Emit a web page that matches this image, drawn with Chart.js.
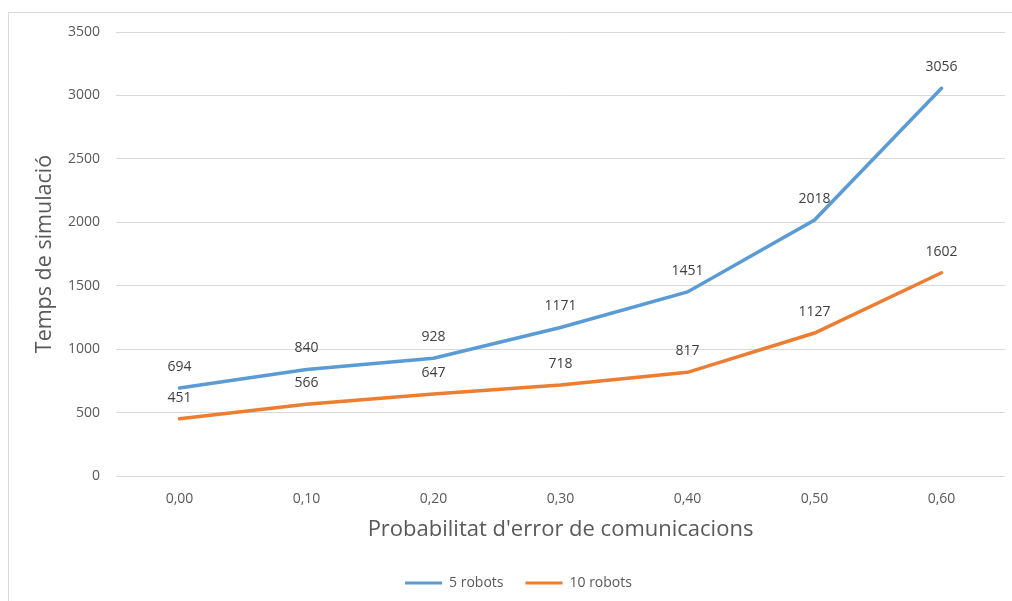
<!DOCTYPE html>
<html>
<head>
<meta charset="utf-8">
<script src="https://cdn.jsdelivr.net/npm/chart.js@4.4.1/dist/chart.umd.min.js"></script>
<style>
  html, body { margin: 0; padding: 0; background: #ffffff; }
  #wrap { position: relative; width: 1012px; height: 601px; }
</style>
</head>
<body>
<div id="wrap"><canvas id="chart" width="1012" height="601"></canvas></div>
<script>
// Probability of communication error (x categories)
const categories = ['0,00', '0,10', '0,20', '0,30', '0,40', '0,50', '0,60'];
// Simulation time per configuration
const robots5 = [694, 840, 928, 1171, 1451, 2018, 3056];
const robots10 = [451, 566, 647, 718, 817, 1127, 1602];
const seriesNames = ['5 robots', '10 robots'];

const FONT = '"Open Sans", "Noto Sans", sans-serif';
const TEXT = '#595959';

// Outer frame of the chart area
const framePlugin = {
  id: 'frame',
  beforeDraw(chart) {
    const ctx = chart.ctx;
    ctx.save();
    ctx.fillStyle = '#ffffff';
    ctx.fillRect(0, 0, chart.width, chart.height);
    ctx.strokeStyle = '#d9d9d9';
    ctx.lineWidth = 1;
    ctx.beginPath();
    ctx.moveTo(8.5, chart.height + 2);
    ctx.lineTo(8.5, 12.5);
    ctx.lineTo(chart.width + 2, 12.5);
    ctx.stroke();
    ctx.restore();
  }
};

// Value labels above each point
const valueLabels = {
  id: 'valueLabels',
  afterDatasetsDraw(chart) {
    const ctx = chart.ctx;
    ctx.save();
    ctx.font = '14px ' + FONT;
    ctx.fillStyle = '#404040';
    ctx.textAlign = 'center';
    ctx.textBaseline = 'middle';
    chart.data.datasets.forEach((ds, i) => {
      const meta = chart.getDatasetMeta(i);
      meta.data.forEach((pt, j) => {
        ctx.fillText(String(ds.data[j]), pt.x, pt.y - 21);
      });
    });
    ctx.restore();
  }
};

new Chart(document.getElementById('chart'), {
  type: 'line',
  data: {
    labels: categories,
    datasets: [
      {
        label: seriesNames[0],
        data: robots5,
        borderColor: '#5b9bd5',
        backgroundColor: '#5b9bd5',
        borderWidth: 3.5,
        pointRadius: 0,
        tension: 0,
        borderCapStyle: 'round'
      },
      {
        label: seriesNames[1],
        data: robots10,
        borderColor: '#ed7d31',
        backgroundColor: '#ed7d31',
        borderWidth: 3.5,
        pointRadius: 0,
        tension: 0,
        borderCapStyle: 'round'
      }
    ]
  },
  plugins: [framePlugin, valueLabels],
  options: {
    responsive: false,
    animation: false,
    layout: { padding: { left: 32, right: 7, top: 32, bottom: 1 } },
    plugins: {
      tooltip: { enabled: false },
      legend: {
        position: 'bottom',
        labels: {
          font: { family: FONT, size: 14 },
          color: TEXT,
          boxWidth: 37,
          boxHeight: 3,
          padding: 22,
          generateLabels(chart) {
            return chart.data.datasets.map((ds, i) => ({
              text: ds.label,
              fillStyle: ds.borderColor,
              strokeStyle: ds.borderColor,
              lineWidth: 0,
              fontColor: TEXT,
              datasetIndex: i
            }));
          }
        }
      }
    },
    scales: {
      x: {
        offset: true,
        grid: { display: false },
        border: { display: false },
        ticks: { font: { family: FONT, size: 14 }, color: TEXT, padding: 7 },
        title: {
          display: true,
          text: "Probabilitat d'error de comunicacions",
          font: { family: FONT, size: 22 },
          color: TEXT,
          padding: { top: 0, bottom: 11 }
        },
        afterFit(scale) { scale.height = 78; }
      },
      y: {
        min: 0,
        max: 3500,
        grid: { color: '#d9d9d9', lineWidth: 1, drawTicks: false },
        border: { display: false },
        ticks: {
          stepSize: 500,
          font: { family: FONT, size: 14 },
          color: TEXT,
          padding: 16,
          callback: (v) => String(v)
        },
        title: {
          display: true,
          text: 'Temps de simulació',
          font: { family: FONT, size: 21.5 },
          color: TEXT,
          padding: { top: 0, bottom: 0 }
        },
        afterFit(scale) { scale.width = 84; }
      }
    }
  }
});
</script>
</body>
</html>
